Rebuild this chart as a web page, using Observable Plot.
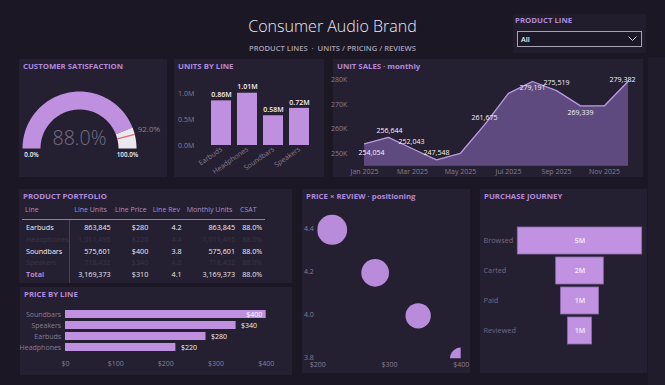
<!DOCTYPE html>
<html>
<head>
<meta charset="utf-8">
<script src="https://cdn.jsdelivr.net/npm/d3@7"></script>
<script src="https://cdn.jsdelivr.net/npm/@observablehq/plot@0.6"></script>
<style>
  html, body { margin: 0; padding: 0; }
  body {
    width: 665px; height: 385px; position: relative; overflow: hidden;
    background: #1b1725;
    font-family: "Open Sans", "Noto Sans", sans-serif;
  }
  .strip { position: absolute; left: 648px; top: 57px; width: 17px; height: 328px; background: #211c2b; }
  .panel { position: absolute; background: #252031; }
  .ptitle {
    position: absolute; left: 4px; top: 3px; white-space: nowrap;
    font-size: 7.8px; font-weight: 700; color: #b08ad9; line-height: 9px;
  }
  .chart { position: absolute; left: 0; top: 0; }
  .chart svg { display: block; overflow: visible; }
  #title {
    position: absolute; left: 0; width: 665px; top: 15px; text-align: center;
    font-size: 16px; font-weight: 300; color: #ece8f3; line-height: 22px;
  }
  #subtitle {
    position: absolute; left: 0; width: 665px; top: 43px; text-align: center;
    font-size: 7.6px; font-weight: 600; color: #a7a1b4; line-height: 10px;
  }
  .cell { position: absolute; white-space: nowrap; line-height: 10px; font-size: 7.2px; }
  .dropdown {
    position: absolute; left: 4px; top: 17px; width: 123px; height: 14px;
    border: 1px solid #a8a2b4; background: #1d1827;
  }
  .dropdown span { position: absolute; left: 3px; top: 2px; font-size: 7.2px; font-weight: 600; color: #f2eff6; line-height: 10px; }
  .dropdown svg { position: absolute; right: 4px; top: 4px; }
</style>
</head>
<body>
<div class="strip"></div>
<div id="title">Consumer Audio Brand</div>
<div id="subtitle">PRODUCT LINES &nbsp;·&nbsp; UNITS / PRICING / REVIEWS</div>

<div class="panel" id="slicer" style="left:513px;top:14px;width:133px;height:39px;background:#221d2d;">
  <div class="ptitle" style="left:2px;top:2px;">PRODUCT LINE</div>
  <div class="dropdown"><span>All</span>
    <svg width="9" height="6"><polyline points="0.5,0.5 4.5,4.5 8.5,0.5" fill="none" stroke="#d8d3e0" stroke-width="1"/></svg>
  </div>
</div>

<div class="panel" id="gauge" style="left:19px;top:59px;width:148px;height:118px;"><div class="ptitle">CUSTOMER SATISFACTION</div></div>
<div class="panel" id="units" style="left:174px;top:59px;width:150px;height:118px;"><div class="ptitle">UNITS BY LINE</div></div>
<div class="panel" id="sales" style="left:333px;top:59px;width:310px;height:118px;"><div class="ptitle">UNIT SALES · monthly</div></div>
<div class="panel" id="portfolio" style="left:19px;top:189px;width:273px;height:94px;"><div class="ptitle">PRODUCT PORTFOLIO</div></div>
<div class="panel" id="price" style="left:20px;top:287px;width:272px;height:88px;"><div class="ptitle">PRICE BY LINE</div></div>
<div class="panel" id="scatter" style="left:302px;top:189px;width:168px;height:184px;"><div class="ptitle">PRICE × REVIEW · positioning</div></div>
<div class="panel" id="journey" style="left:480px;top:189px;width:167px;height:184px;"><div class="ptitle">PURCHASE JOURNEY</div></div>

<script>
// ---- data ----
const lines = ["Earbuds", "Headphones", "Soundbars", "Speakers"];
const lineUnits = [863845, 1011495, 575601, 718432];
const linePrice = [280, 220, 400, 340];
const lineReview = [4.2, 4.4, 3.8, 4.0];
const lineCsat = [0.88, 0.88, 0.88, 0.88];
const selectedLines = ["Earbuds", "Soundbars"];

const csatActual = 0.88;
const csatTarget = 0.92;

const months = ["Jan 2025", "Feb 2025", "Mar 2025", "Apr 2025", "May 2025", "Jun 2025",
                "Jul 2025", "Aug 2025", "Sep 2025", "Oct 2025", "Nov 2025", "Dec 2025"];
const monthlyUnits = [254054, 256644, 252043, 247548, 250214, 261675,
                      274372, 279191, 275519, 269339, 269392, 279382];

const stages = ["Browsed", "Carted", "Paid", "Reviewed"];
const stageCounts = [4700000, 1800000, 1440000, 910000];

// ---- shared styling ----
const FONT = "'Open Sans', 'Noto Sans', sans-serif";
const BAR = "#c090e0";
const TEXT_MUTED = "#857e95";
const baseStyle = { background: "transparent", color: TEXT_MUTED, fontSize: "7px", fontFamily: FONT, overflow: "visible" };

function mount(id, svg) {
  const wrap = document.createElement("div");
  wrap.className = "chart";
  wrap.appendChild(svg);
  document.getElementById(id).appendChild(wrap);
}

const fmtInt = d3.format(",");
const rows = lines.map((line, i) => ({
  line, units: lineUnits[i], price: linePrice[i], review: lineReview[i], csat: lineCsat[i]
}));

// ---- gauge: customer satisfaction against target ----
(function () {
  const rOut = 1, rIn = 0.684;
  const ring = (f0, f1, n = 80) => {
    const pts = [];
    for (let i = 0; i <= n; i++) {
      const a = Math.PI * (1 - (f0 + (f1 - f0) * i / n));
      pts.push({ x: rOut * Math.cos(a), y: rOut * Math.sin(a) });
    }
    for (let i = n; i >= 0; i--) {
      const a = Math.PI * (1 - (f0 + (f1 - f0) * i / n));
      pts.push({ x: rIn * Math.cos(a), y: rIn * Math.sin(a) });
    }
    return pts;
  };
  const ta = Math.PI * (1 - csatTarget);
  const target = [{ x1: rIn * Math.cos(ta), y1: rIn * Math.sin(ta), x2: rOut * Math.cos(ta), y2: rOut * Math.sin(ta) }];
  const mid = (rIn + rOut) / 2;
  const pct = d3.format(".1%");
  const svg = Plot.plot({
    width: 148, height: 118, margin: 0,
    x: { domain: [-60 / 57, 88 / 57], axis: null },
    y: { domain: [-29 / 57, 89 / 57], axis: null },
    style: baseStyle,
    marks: [
      Plot.line(ring(0, csatActual), { x: "x", y: "y", fill: BAR, stroke: "none" }),
      Plot.line(ring(csatActual, 1), { x: "x", y: "y", fill: "#ece8ef", stroke: "none" }),
      Plot.link(target, { x1: "x1", y1: "y1", x2: "x2", y2: "y2", stroke: "#e0647c", strokeWidth: 1.2 }),
      Plot.text([csatActual], { x: 0, y: 0.17, text: d => pct(d), fontSize: 19.5, fontWeight: 300, fill: "#746d85" }),
      Plot.text([csatTarget], { x: d => rOut * Math.cos(Math.PI * (1 - d)), y: d => rOut * Math.sin(Math.PI * (1 - d)),
        text: d => pct(d), textAnchor: "start", dx: 3, dy: -5, fontSize: 8, fill: "#8a8399" }),
      Plot.text([0, 1], { x: d => (d === 0 ? -mid : mid), y: 0, text: d => pct(d), dy: 6.5,
        fontSize: 6.3, fontWeight: 600, fill: "#f4f1f7" })
    ]
  });
  mount("gauge", svg);
})();

// ---- units by product line ----
(function () {
  const svg = Plot.plot({
    width: 150, height: 118, marginLeft: 29.7, marginRight: 8.4, marginTop: 24, marginBottom: 32,
    x: { domain: lines, padding: 0.24, label: null },
    y: { domain: [0, 1.2e6], label: null },
    style: baseStyle,
    marks: [
      Plot.axisY({ ticks: [0, 5e5, 1e6], tickFormat: d => (d / 1e6).toFixed(1) + "M", tickSize: 0, tickPadding: 10, label: null }),
      Plot.axisX({ tickSize: 0, tickRotate: -35, tickPadding: 3, label: null }),
      Plot.barY(rows, { x: "line", y: "units", fill: BAR }),
      Plot.text(rows, { x: "line", y: "units", text: d => (d.units / 1e6).toFixed(2) + "M",
        dy: -6, fill: "#f3eff7", fontWeight: 600, fontSize: 7 })
    ]
  });
  mount("units", svg);
})();

// ---- monthly unit sales ----
(function () {
  const data = months.map((m, i) => ({ month: m, units: monthlyUnits[i] }));
  // where each data label sits relative to its point
  const labelPlacement = {
    "Jan 2025": { dx: 7, dy: 8.5 }, "Feb 2025": { dx: 1, dy: -6.5 }, "Mar 2025": { dx: -1, dy: -7 },
    "Apr 2025": { dx: 0, dy: -7 }, "Jun 2025": { dx: 0, dy: -7 }, "Aug 2025": { dx: 0, dy: 6 },
    "Sep 2025": { dx: 0, dy: -8 }, "Oct 2025": { dx: 0, dy: 7 }, "Dec 2025": { dx: -6, dy: -1 }
  };
  const labelMarks = data.filter(d => labelPlacement[d.month]).map(d =>
    Plot.text([d], { x: "month", y: "units", text: v => fmtInt(v.units),
      dx: labelPlacement[d.month].dx, dy: labelPlacement[d.month].dy,
      fill: "#f6f3fa", fontSize: 7 }));
  const svg = Plot.plot({
    width: 310, height: 118, marginLeft: 27.7, marginRight: 12, marginTop: 20, marginBottom: 11.3,
    x: { type: "point", domain: months, padding: 0, label: null },
    y: { domain: [245000, 280000], label: null },
    style: baseStyle,
    marks: [
      Plot.areaY(data, { x: "month", y: "units", fill: "#5e4a7e", clip: true }),
      Plot.lineY(data, { x: "month", y: "units", stroke: "#b898df", strokeWidth: 1.3 }),
      Plot.axisY({ ticks: [250000, 260000, 270000, 280000], tickFormat: d => d / 1000 + "K", tickSize: 0, tickPadding: 14, label: null }),
      Plot.axisX({ ticks: months.filter((m, i) => i % 2 === 0), tickSize: 0, tickPadding: 3, label: null }),
      ...labelMarks
    ]
  });
  mount("sales", svg);
})();

// ---- product portfolio table ----
(function () {
  const panel = d3.select("#portfolio");
  const W = 273;
  const columns = [
    { name: "Line", head: 6, left: 7, value: d => d.line },
    { name: "Line Units", head: 55.3, right: 91.7, value: d => fmtInt(d.units) },
    { name: "Line Price", head: 96, right: 129.3, value: d => "$" + d.price },
    { name: "Line Rev", head: 133.7, right: 162.7, value: d => d.review.toFixed(1) },
    { name: "Monthly Units", head: 167.7, right: 216, value: d => fmtInt(d.units) },
    { name: "CSAT", head: 221, right: 243.3, value: d => (d.csat * 100).toFixed(1) + "%" }
  ];
  const total = {
    line: "Total",
    units: d3.sum(lineUnits),
    price: d3.mean(linePrice),
    review: d3.mean(lineReview),
    csat: d3.mean(lineCsat)
  };
  const rowY = [37.7, 49.7, 61.7, 73.3, 84.7];
  const place = (sel, col, y) => {
    sel.style("top", (y - 5) + "px");
    if (col.right !== undefined) sel.style("right", (W - col.right) + "px");
    else sel.style("left", col.left + "px");
  };
  columns.forEach(col => {
    panel.append("div").attr("class", "cell").text(col.name)
      .style("left", col.head + "px").style("top", (21 - 5) + "px")
      .style("color", "#a98ccd").style("font-size", "7px");
  });
  rows.forEach((r, i) => {
    const on = selectedLines.includes(r.line);
    columns.forEach(col => {
      const c = panel.append("div").attr("class", "cell").text(col.value(r))
        .style("color", on ? "#f1eef5" : "#3b3447");
      place(c, col, rowY[i]);
    });
  });
  columns.forEach((col, j) => {
    const c = panel.append("div").attr("class", "cell").text(col.value(total))
      .style("color", j === 0 ? "#b08ad9" : "#e9e5ef").style("font-weight", j === 0 ? 700 : 400);
    place(c, col, rowY[4]);
  });
  panel.append("div").style("position", "absolute").style("left", "3px").style("top", "30px")
    .style("width", "243px").style("height", "1px").style("background", "#8a8497");
  panel.append("div").style("position", "absolute").style("left", "50px").style("top", "31px")
    .style("width", "1px").style("height", "63px").style("background", "#4a4358");
})();

// ---- price by product line ----
(function () {
  const data = rows.slice().sort((a, b) => b.price - a.price);
  const inside = d => d.price > 370;
  const svg = Plot.plot({
    width: 272, height: 88, marginLeft: 45, marginRight: 26.3, marginTop: 19.5, marginBottom: 19.1,
    x: { domain: [0, 400], label: null },
    y: { domain: data.map(d => d.line), padding: 0.23, label: null },
    style: baseStyle,
    marks: [
      Plot.barX(data, { x: "price", y: "line", fill: BAR }),
      Plot.axisY({ tickSize: 0, tickPadding: 4.3, label: null }),
      Plot.axisX({ ticks: [0, 100, 200, 300, 400], tickFormat: d => "$" + d, tickSize: 0, tickPadding: 4.5, label: null }),
      Plot.text(data.filter(inside), { x: "price", y: "line", text: d => "$" + d.price, textAnchor: "end", dx: -4, fill: "#ffffff", fontSize: 7 }),
      Plot.text(data.filter(d => !inside(d)), { x: "price", y: "line", text: d => "$" + d.price, textAnchor: "start", dx: 5, fill: "#f3eff7", fontSize: 7 })
    ]
  });
  mount("price", svg);
})();

// ---- price vs review positioning ----
(function () {
  const svg = Plot.plot({
    width: 168, height: 184, marginLeft: 15.3, marginRight: 9.3, marginTop: 18.8, marginBottom: 14.7,
    x: { domain: [200, 400], label: null },
    y: { domain: [3.8, 4.5], label: null },
    r: { type: "sqrt", domain: [0, d3.max(lineUnits)], range: [0, 15] },
    style: baseStyle,
    marks: [
      Plot.axisX({ ticks: [200, 300, 400], tickFormat: d => "$" + d, tickSize: 0, tickPadding: 3.5, label: null }),
      Plot.axisY({ ticks: [3.8, 4.0, 4.2, 4.4], tickFormat: d3.format(".1f"), tickSize: 0, tickPadding: 4, dy: -1.5, label: null }),
      Plot.dot(rows, { x: "price", y: "review", r: "units", fill: "#b98bdb", stroke: "none", clip: true })
    ]
  });
  mount("scatter", svg);
})();

// ---- purchase journey funnel ----
(function () {
  const data = stages.map((s, i) => ({ stage: s, count: stageCounts[i] }));
  const maxCount = d3.max(stageCounts);
  const svg = Plot.plot({
    width: 167, height: 184, marginLeft: 37.3, marginRight: 5.3, marginTop: 33.9, marginBottom: 24.6,
    x: { domain: [-maxCount / 2, maxCount / 2], axis: null },
    y: { domain: stages, padding: 0.115, axis: null },
    style: baseStyle,
    marks: [
      Plot.barX(data, { y: "stage", x1: d => -d.count / 2, x2: d => d.count / 2, fill: "#c192e2", stroke: "#8d69ad", strokeWidth: 0.8 }),
      Plot.text(data, { y: "stage", x: 0, text: d => Math.round(d.count / 1e6) + "M", fill: "#f5eeff", fontSize: 7, fontWeight: 600 }),
      Plot.text(data, { y: "stage", frameAnchor: "left", text: "stage", textAnchor: "start", dx: -34.3, fill: "#6f6882", fontSize: 7.3 })
    ]
  });
  mount("journey", svg);
})();
</script>
</body>
</html>
